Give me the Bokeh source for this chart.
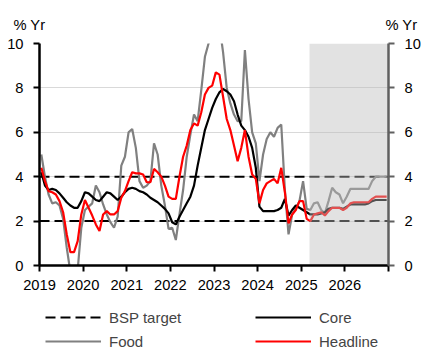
import pandas as pd
from bokeh.plotting import figure
from bokeh.layouts import column
from bokeh.models import Range1d, LinearAxis, FixedTicker, Legend, LegendItem
from bokeh.core.properties import value
from bokeh.embed import file_html
from bokeh.resources import INLINE

# ---------------- data ----------------
dates = pd.date_range("2019-01-01", "2026-12-01", freq="MS")
xpos = list(dates.year + (dates.month - 0.5) / 12.0)

headline = [
    4.4, 3.8, 3.35, 3.3, 3.2, 2.9, 2.4, 1.4, 0.6, 0.6, 1.1, 2.3,        # 2019
    2.95, 2.6, 2.25, 1.85, 1.55, 2.3, 2.45, 2.3, 2.3, 2.45, 3.05, 3.35,  # 2020
    3.8, 4.2, 4.15, 4.15, 4.1, 3.75, 3.75, 4.35, 4.2, 4.0, 3.6, 3.1,     # 2021
    3.0, 3.0, 4.0, 4.9, 5.4, 6.1, 6.4, 6.3, 6.9, 7.7, 8.0, 8.1,          # 2022
    8.7, 8.6, 7.6, 6.6, 6.1, 5.4, 4.7, 5.3, 6.1, 4.9, 4.1, 3.9,          # 2023
    2.8, 3.4, 3.7, 3.8, 3.9, 3.7, 4.4, 3.3, 1.9, 2.3, 2.5, 2.9,          # 2024
    2.9, 2.1, 2.0, 2.3, 2.35, 2.4, 2.25, 2.45, 2.6, 2.6, 2.6, 2.5,       # 2025
    2.6, 2.8, 2.85, 2.85, 2.85, 2.85, 2.85, 3.0, 3.1, 3.1, 3.1, 3.1,     # 2026
]
core = [
    4.2, 3.6, 3.4, 3.45, 3.4, 3.25, 3.05, 2.85, 2.7, 2.6, 2.6, 2.9,
    3.3, 3.25, 3.1, 2.95, 2.9, 3.1, 3.3, 3.25, 3.1, 2.95, 3.1, 3.3,
    3.45, 3.5, 3.45, 3.35, 3.3, 3.2, 3.05, 2.95, 2.85, 2.7, 2.55, 2.35,
    1.95, 1.85, 2.2, 2.5, 2.8, 3.1, 3.6, 4.5, 5.3, 6.1, 6.6, 7.1,
    7.5, 7.8, 7.95, 7.85, 7.7, 7.4, 6.8, 6.3, 6.1, 5.8, 5.3, 4.4,
    2.65, 2.45, 2.45, 2.45, 2.45, 2.5, 2.6, 3.0, 2.25, 2.5, 2.7, 2.6,
    2.5, 2.4, 2.3, 2.3, 2.3, 2.35, 2.4, 2.55, 2.6, 2.6, 2.6, 2.55,
    2.65, 2.75, 2.75, 2.75, 2.75, 2.75, 2.8, 2.9, 2.95, 2.95, 2.95, 2.95,
]
food = [
    5.0, 4.0, 3.2, 2.8, 2.85, 2.7, 2.1, 0.8, -0.3, -0.6, -0.2, 1.7,
    2.5, 2.65, 2.8, 3.6, 3.3, 2.75, 2.3, 1.95, 1.7, 2.2, 4.5, 4.9,
    6.0, 6.15, 5.3, 3.8, 3.5, 3.6, 3.8, 5.5, 5.0, 3.6, 2.7, 1.65,
    1.7, 1.15, 2.3, 3.4, 4.9, 5.9, 6.8, 6.5, 7.9, 9.4, 10.0, 10.6,
    11.0, 10.8, 9.6, 8.0, 7.3, 6.8, 6.5, 6.5, 9.7, 7.5, 6.0, 5.5,
    3.8, 5.0, 5.7, 6.0, 5.8, 6.2, 6.35, 3.4, 1.4, 2.3, 2.55, 2.9,
    3.8, 2.55, 2.5, 2.8, 2.85, 2.5, 2.35, 2.9, 3.5, 3.3, 3.2, 2.8,
    3.1, 3.45, 3.45, 3.45, 3.45, 3.45, 3.45, 3.8, 4.0, 4.0, 4.0, 4.0,
]
bsp_target = [2.0, 4.0]
forecast_start = 2025.19
year_ticks = list(range(2019, 2028))
y_ticks = [0, 2, 4, 6, 8, 10]
unit_labels = ["% Yr", "% Yr"]
series_names = ["BSP target", "Core", "Food", "Headline"]

FONT = "Liberation Sans"
FS = "14.7px"
W, H = 429, 355
HEADER_H = 33
FOOTER_H = 56
MAIN_H = H - HEADER_H - FOOTER_H

STYLE = {
    "BSP target": dict(line_color="black", line_width=2, line_dash="10 5"),
    "Core": dict(line_color="black", line_width=2.2),
    "Food": dict(line_color="#808080", line_width=2.2),
    "Headline": dict(line_color="#ff0000", line_width=2.2),
}

# ---------------- header with the unit labels ----------------
hdr = figure(width=W, height=HEADER_H, output_backend="svg", toolbar_location=None,
             x_range=Range1d(0, W), y_range=Range1d(HEADER_H, 0),
             x_axis_type=None, y_axis_type=None, min_border=0, frame_align=False)
hdr.outline_line_color = None
hdr.grid.visible = False
hdr.text(x=[13, 385], y=[24.5, 24.5], text=unit_labels,
         text_font=value(FONT), text_font_size=value(FS),
         text_baseline="middle", text_align="left", text_color="black")

# ---------------- main chart ----------------
p = figure(width=W, height=MAIN_H, output_backend="svg", toolbar_location=None,
           x_range=Range1d(year_ticks[0], year_ticks[-1]),
           y_range=Range1d(y_ticks[0], y_ticks[-1]), frame_align=False,
           min_border_left=39, min_border_right=41, min_border_top=10, min_border_bottom=MAIN_H - 232)
p.outline_line_color = None
p.background_fill_color = "white"
p.border_fill_color = "white"
p.extra_y_ranges = {"right": Range1d(y_ticks[0], y_ticks[-1])}

p.xgrid.visible = False
p.ygrid.ticker = FixedTicker(ticks=y_ticks[1:])
p.ygrid.grid_line_color = "#d9d9d9"
p.ygrid.grid_line_width = 1

xa = p.xaxis[0]
xa.ticker = FixedTicker(ticks=year_ticks)
xa.major_label_overrides = {year_ticks[-1]: ""}
xa.axis_line_color = "black"
xa.axis_line_width = 2.5
xa.major_tick_line_color = "black"
xa.major_tick_line_width = 2
xa.major_tick_out = 6
xa.major_tick_in = 0
xa.minor_tick_line_color = None
xa.major_label_standoff = 8
xa.major_label_text_font = FONT
xa.major_label_text_font_size = FS
xa.major_label_text_color = "black"

ya = p.yaxis[0]
ya.ticker = FixedTicker(ticks=y_ticks)
ya.axis_line_color = "black"
ya.axis_line_width = 2.5
ya.major_tick_line_color = "black"
ya.major_tick_line_width = 2
ya.major_tick_out = 6
ya.major_tick_in = 0
ya.minor_tick_line_color = None
ya.major_label_standoff = 10
ya.major_label_text_font = FONT
ya.major_label_text_font_size = FS
ya.major_label_text_color = "black"

ra = LinearAxis(y_range_name="right", ticker=FixedTicker(ticks=y_ticks))
ra.axis_line_color = "#606060"
ra.axis_line_width = 2.5
ra.major_tick_line_color = "#606060"
ra.major_tick_line_width = 2
ra.major_tick_out = 6
ra.major_tick_in = 0
ra.minor_tick_line_color = None
ra.major_label_standoff = 10
ra.major_label_text_font = FONT
ra.major_label_text_font_size = FS
ra.major_label_text_color = "black"
p.add_layout(ra, "right")

p.segment(x0=year_ticks[0], x1=year_ticks[-1], y0=bsp_target, y1=bsp_target, **STYLE["BSP target"])
p.line(xpos, food, **STYLE["Food"])
p.line(xpos, core, **STYLE["Core"])
p.line(xpos, headline, **STYLE["Headline"])

p.quad(left=forecast_start, right=year_ticks[-1], bottom=y_ticks[0], top=y_ticks[-1],
       fill_color="#bbbbbb", fill_alpha=0.43, line_color=None)

# ---------------- footer with the legend ----------------
# The footer's ranges are in pixels, so the series drawn here (for the legend
# samples) fall far outside its visible area; only the legend shows.
ftr = figure(width=W, height=FOOTER_H, output_backend="svg", toolbar_location=None,
             x_range=Range1d(0, W), y_range=Range1d(0, FOOTER_H),
             x_axis_type=None, y_axis_type=None, min_border=0, frame_align=False)
ftr.outline_line_color = None
ftr.grid.visible = False
legend_renderers = {
    "BSP target": ftr.segment(x0=year_ticks[0], x1=year_ticks[-1], y0=bsp_target, y1=bsp_target,
                              **STYLE["BSP target"]),
    "Core": ftr.line(xpos, core, **STYLE["Core"]),
    "Food": ftr.line(xpos, food, **STYLE["Food"]),
    "Headline": ftr.line(xpos, headline, **STYLE["Headline"]),
}
items = [LegendItem(label=n, renderers=[legend_renderers[n]]) for n in series_names]
legend = Legend(items=items, orientation="horizontal", ncols=2, location=(45, 4))
legend.label_text_font = FONT
legend.label_text_font_size = "15px"
legend.glyph_width = 56
legend.glyph_height = 20
legend.label_height = 20
legend.label_standoff = 8
legend.label_width = 142
legend.spacing = 4
legend.padding = 0
legend.margin = 0
legend.border_line_color = None
legend.background_fill_alpha = 0
ftr.add_layout(legend, "center")

layout = column(hdr, p, ftr, spacing=0)
open("out.html", "w").write(file_html(layout, INLINE))
